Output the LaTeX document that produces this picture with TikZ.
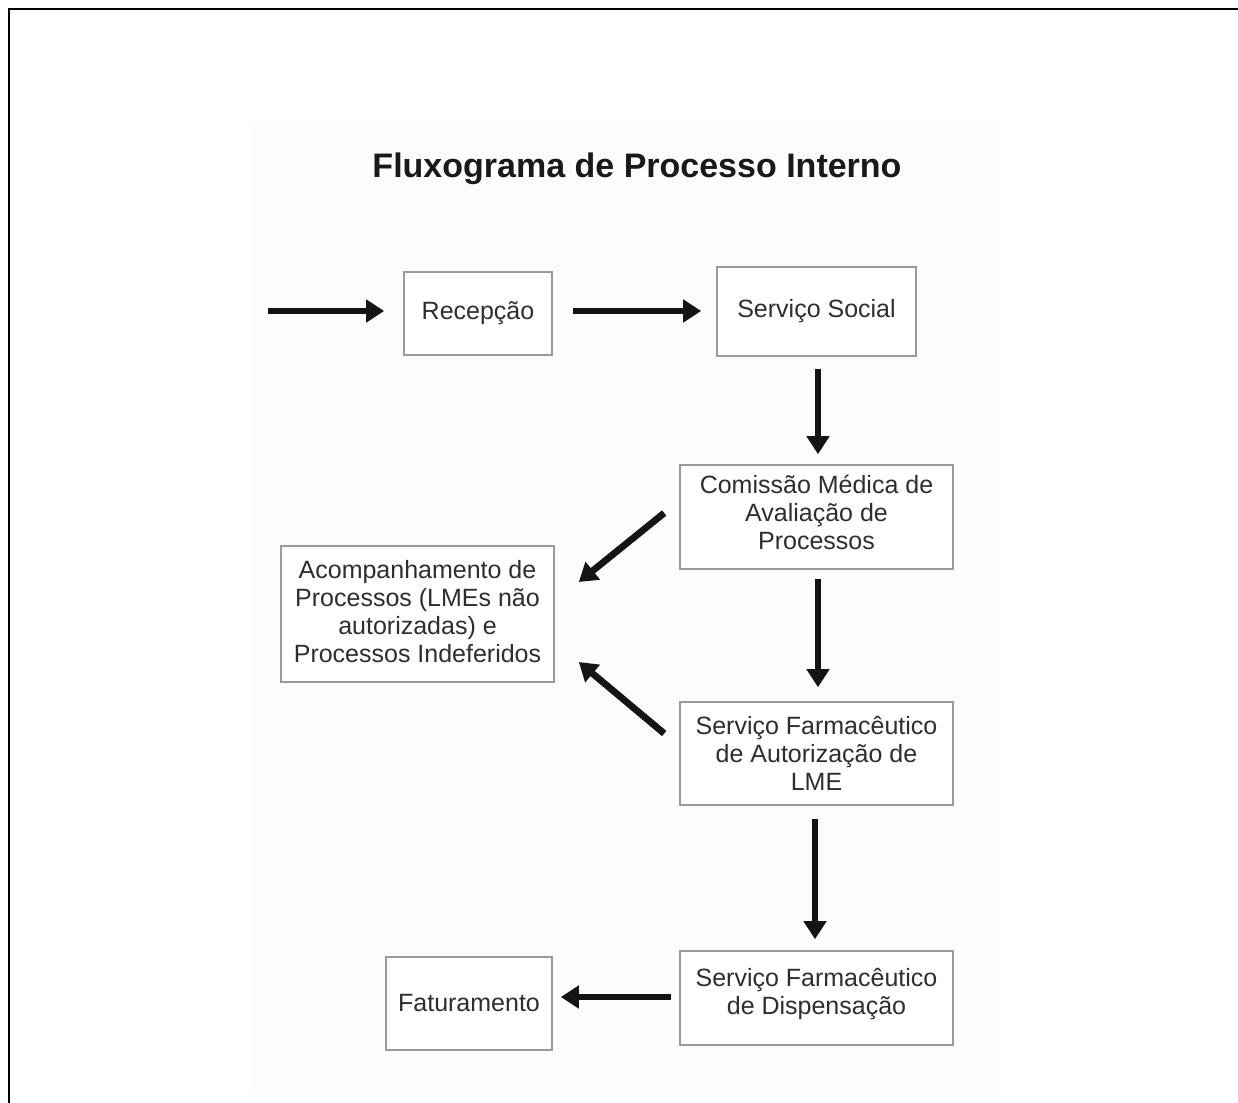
\documentclass[tikz,border=0pt]{standalone}
\usepackage{fontspec}
\setmainfont{Liberation Sans}
\usetikzlibrary{arrows.meta,calc}

\definecolor{boxline}{HTML}{9A9A9A}
\definecolor{bodytext}{HTML}{2E2E2E}
\definecolor{panel}{HTML}{FCFCFC}

% invisible strut that deepens the last line, lifting a text block inside its box
\newcommand\deepline[1]{\rule[-#1]{0pt}{#1}}

\tikzset{
  procbox/.style={draw=boxline, line width=1.6pt, fill=white, align=center,
    inner sep=0pt, text=bodytext, font=\fontsize{25}{28}\selectfont},
  flow/.style={line width=6.8pt, draw=black!92,
    -{Triangle[length=18pt,width=22pt]}},
}

\begin{document}
\begin{tikzpicture}[x=1pt,y=-1pt]
  \useasboundingbox (0,0) rectangle (1238,1102);
  \clip (0,0) rectangle (1238,1102);

  % page frame and drawing panel
  \fill[panel] (250,122) rectangle (1000,1090);
  \draw[line width=2.6pt] (1250,9) -- (9,9) -- (9,1110);

  % title
  \node[font=\bfseries\fontsize{34}{40}\selectfont, text=black!90] (title) at (637,169)
    {Fluxograma de Processo Interno};

  % process steps
  \node[procbox, minimum width=148pt, minimum height=83pt] (recep) at (478,313.5)
    {Recepção};
  \node[procbox, minimum width=199pt, minimum height=89pt] (social) at (816.5,311.5)
    {Serviço Social};
  \node[procbox, minimum width=273pt, minimum height=104pt] (comissao) at (816.5,517)
    {Comissão Médica de\\Avaliação de\\Processos\deepline{8.5pt}};
  \node[procbox, minimum width=273pt, minimum height=136pt] (acomp) at (417.5,614)
    {Acompanhamento de\\Processos (LMEs não\\autorizadas) e\\Processos Indeferidos\deepline{6pt}};
  \node[procbox, minimum width=273pt, minimum height=103pt] (autoriz) at (816.5,753.5)
    {Serviço Farmacêutico\\de Autorização de\\LME};
  \node[procbox, minimum width=273pt, minimum height=94pt] (disp) at (816.5,998)
    {Serviço Farmacêutico\\de Dispensação\deepline{13.5pt}};
  \node[procbox, minimum width=166pt, minimum height=93pt] (fatur) at (469,1003.5)
    {Faturamento};

  % entry point
  \coordinate (entry) at (268,311);

  % connectors
  \draw[flow, shorten >=19pt] (entry) -- (recep.west |- entry);
  \draw[flow, shorten <=20pt, shorten >=15pt] (recep.east |- entry) -- (social.west |- entry);
  \draw[flow, shorten <=12pt, shorten >=10pt] ($(social.south)+(1.5,0)$) -- ($(comissao.north)+(1.5,0)$);
  \draw[flow, shorten <=9pt, shorten >=14pt] ($(comissao.south)+(1.5,0)$) -- ($(autoriz.north)+(1.5,0)$);
  \draw[flow, shorten <=13pt, shorten >=11pt] ($(autoriz.south)+(-1.5,0)$) -- ($(disp.north)+(-1.5,0)$);
  \draw[flow] ($(comissao.west)+(-15,-4)$) -- ($(acomp.east)+(24,-32)$);
  \draw[flow] ($(autoriz.west)+(-15,-20)$) -- ($(acomp.east)+(24,48)$);
  \draw[flow, shorten <=8pt, shorten >=8pt] ($(disp.west)+(0,-1)$) -- ($(fatur.east |- disp.west)+(0,-1)$);
\end{tikzpicture}
\end{document}
